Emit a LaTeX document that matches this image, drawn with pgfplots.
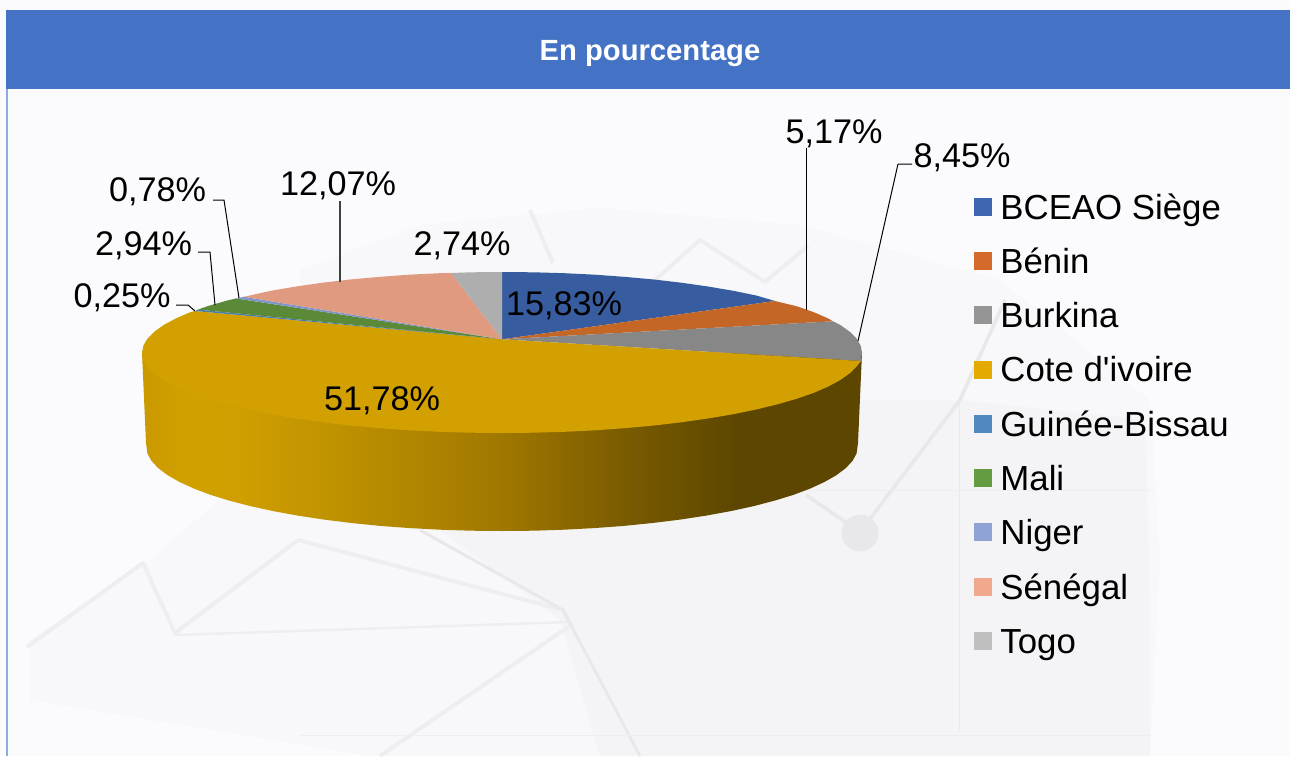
\documentclass[border=0pt]{standalone}
\usepackage{fontspec}
\setmainfont{Liberation Sans}
\usepackage{pgfplots}
\pgfplotsset{compat=1.18}

\definecolor{bandblue}{HTML}{4472C4}
\definecolor{edgeblue}{HTML}{8FAADC}
\definecolor{paper}{HTML}{FBFBFD}
\definecolor{pale}{HTML}{F8F7F9}
\definecolor{paler}{HTML}{F4F3F5}
\definecolor{wm}{HTML}{EEEDEF}
\definecolor{wmd}{HTML}{E8E7E9}
% slice colours on the top face
\definecolor{sBceao}{HTML}{375C9F}
\definecolor{sBenin}{HTML}{C46625}
\definecolor{sBurkina}{HTML}{878787}
\definecolor{sCote}{HTML}{D2A000}
\definecolor{sGuinee}{HTML}{4A7DAE}
\definecolor{sMali}{HTML}{5A8A38}
\definecolor{sNiger}{HTML}{8096CA}
\definecolor{sSenegal}{HTML}{DF9A80}
\definecolor{sTogo}{HTML}{AEAEAE}
% legend colours
\definecolor{lBceao}{HTML}{3F66B0}
\definecolor{lBenin}{HTML}{D46B2A}
\definecolor{lBurkina}{HTML}{959595}
\definecolor{lCote}{HTML}{E3AA00}
\definecolor{lGuinee}{HTML}{5088BF}
\definecolor{lMali}{HTML}{659C42}
\definecolor{lNiger}{HTML}{90A3D6}
\definecolor{lSenegal}{HTML}{F1A98D}
\definecolor{lTogo}{HTML}{BFBFBF}
% side wall shading
\definecolor{wall0}{HTML}{C99900}
\definecolor{wall1}{HTML}{D0A000}
\definecolor{wall2}{HTML}{CF9E00}
\definecolor{wall3}{HTML}{BE9100}
\definecolor{wall4}{HTML}{A07800}
\definecolor{wall5}{HTML}{755800}
\definecolor{wall6}{HTML}{5C4600}
\pgfdeclarehorizontalshading{wallshade}{100bp}{color(0bp)=(wall0); color(25bp)=(wall0); color(28bp)=(wall1); color(31.8bp)=(wall2); color(38.75bp)=(wall3); color(49.9bp)=(wall4); color(59.6bp)=(wall5); color(66.5bp)=(wall6); color(100bp)=(wall6)}

\begin{document}
\begin{tikzpicture}
\begin{axis}[
  scale only axis, width=645pt, height=378pt,
  xmin=0, xmax=1290, ymin=0, ymax=756, y dir=reverse,
  hide axis,
  legend image code/.code={\fill[#1,draw=none] (0pt,-2.8pt) rectangle (9pt,6.2pt); \path (13pt,0pt);},
  legend cell align=left,
  legend style={at={(axis cs:974,193)}, anchor=north west, draw=none, fill=none,
    inner sep=0pt, outer sep=0pt, row sep=10.15pt, column sep=0pt,
    font=\fontsize{17.4}{20}\selectfont,
    nodes={inner sep=0pt, outer sep=0pt, text height=13pt, text depth=4pt}},
]
\addlegendimage{fill=lBceao}\addlegendentry{BCEAO Siège}
\addlegendimage{fill=lBenin}\addlegendentry{Bénin}
\addlegendimage{fill=lBurkina}\addlegendentry{Burkina}
\addlegendimage{fill=lCote}\addlegendentry{Cote d\textquotesingle ivoire}
\addlegendimage{fill=lGuinee}\addlegendentry{Guinée-Bissau}
\addlegendimage{fill=lMali}\addlegendentry{Mali}
\addlegendimage{fill=lNiger}\addlegendentry{Niger}
\addlegendimage{fill=lSenegal}\addlegendentry{Sénégal}
\addlegendimage{fill=lTogo}\addlegendentry{Togo}

% page, watermark
\addplot[forget plot, fill=paper, draw=none] coordinates {(0,0) (1290,0) (1290,756) (0,756)};
\addplot[forget plot, fill=pale, draw=none] coordinates {(300,270) (420,225) (600,208) (800,225) (1000,280) (1150,400) (1160,560) (1150,756) (370,756) (30,700) (30,640) (150,560) (300,430)};
\addplot[forget plot, fill=paler, draw=none] coordinates {(640,400) (960,400) (1145,420) (1150,600) (1150,756) (600,756) (560,620) (440,530) (560,530)};
\addplot[forget plot, wm, line width=2pt, line join=round] coordinates {(27,647) (143,563) (175,633) (298,540) (563,610) (571,625) (380,756)};
\addplot[forget plot, wm, line width=1.2pt] coordinates {(175,635) (571,622)};
\addplot[forget plot, wmd, line width=1.5pt] coordinates {(420,530) (563,610) (640,756)};
\addplot[forget plot, wm, line width=2pt, line join=round] coordinates {(530,210) (553,263)};
\addplot[forget plot, wm, line width=2pt, line join=round] coordinates {(655,280) (700,240) (765,282) (808,246)};
\addplot[forget plot, wmd, line width=1.8pt, line join=round] coordinates {(806,495) (860,532) (960,400) (1005,300)};
\addplot[forget plot, wmd, line width=0.5pt] coordinates {(959,400) (959,730)};
\addplot[forget plot, wm, line width=0.4pt] coordinates {(640,490) (1150,490)};
\addplot[forget plot, wm, line width=0.4pt] coordinates {(300,735) (1150,735)};
\addplot[forget plot, wmd, only marks, mark=*, mark size=9pt] coordinates {(860,533)};

% title band and left edge
\addplot[forget plot, fill=bandblue, draw=none] coordinates {(6,10) (1290,10) (1290,89) (6,89)};
\addplot[forget plot, fill=edgeblue, draw=none] coordinates {(6,89) (8,89) (8,756) (6,756)};

% side wall
\addplot[forget plot, draw=none, shading=wallshade] coordinates {(862,352.5) (142,352.5) (146,443) (147.4,453.4) (151.4,460.8) (158.1,468) (167.5,475.1) (179.4,481.9) (193.7,488.5) (210.4,494.8) (229.3,500.6) (250.3,506.1) (273.2,511.1) (297.8,515.6) (324,519.6) (351.6,523) (380.2,525.9) (409.9,528.1) (440.2,529.7) (471,530.7) (502,531) (533,530.7) (563.8,529.7) (594.1,528.1) (623.8,525.9) (652.4,523) (680,519.6) (706.2,515.6) (730.8,511.1) (753.7,506.1) (774.7,500.6) (793.6,494.8) (810.3,488.5) (824.6,481.9) (836.5,475.1) (845.9,468) (852.6,460.8) (856.6,453.4) (858,443)};

% top face slices
\addplot[forget plot, fill=sBceao, draw=none] coordinates {(502,339.3) (502,272) (533.4,272.3) (564.5,273.2) (595.2,274.7) (625.1,276.9) (654.1,279.5) (682,282.8) (708.5,286.6) (733.4,290.8) (756.6,295.6) (775,301)};
\addplot[forget plot, fill=sBenin, draw=none] coordinates {(502,339.3) (775,301) (796.9,306.3) (813.8,312.2) (828.3,318.5) (833,321.3)};
\addplot[forget plot, fill=sBurkina, draw=none] coordinates {(502,339.3) (833,321.3) (840.3,325) (849.7,331.7) (856.5,338.5) (860.6,345.5) (862,352.5) (861,361)};
\addplot[forget plot, fill=sCote, draw=none] coordinates {(502,339.3) (861,361) (856.5,366.5) (849.7,373.3) (840.3,380) (828.3,386.5) (813.8,392.8) (796.9,398.7) (777.8,404.2) (756.6,409.4) (733.4,414.2) (708.5,418.4) (682,422.2) (654.1,425.5) (625.1,428.1) (595.2,430.3) (564.5,431.8) (533.4,432.7) (502,433) (470.6,432.7) (439.5,431.8) (408.8,430.3) (378.9,428.1) (349.9,425.5) (322,422.2) (295.5,418.4) (270.6,414.2) (247.4,409.4) (226.2,404.2) (207.1,398.7) (190.2,392.8) (175.7,386.5) (163.7,380) (154.3,373.3) (147.5,366.5) (143.4,359.5) (142,352.5) (143.4,345.5) (147.5,338.5) (154.3,331.7) (163.7,325) (175.7,318.5) (190.2,312.2) (195,311)};
\addplot[forget plot, fill=sGuinee, draw=none] coordinates {(502,339.3) (195,311) (198,309.6)};
\addplot[forget plot, fill=sMali, draw=none] coordinates {(502,339.3) (198,309.6) (207.1,306.3) (226.2,300.8) (236,298.4)};
\addplot[forget plot, fill=sNiger, draw=none] coordinates {(502,339.3) (236,298.4) (244,296.8)};
\addplot[forget plot, fill=sSenegal, draw=none] coordinates {(502,339.3) (244,296.8) (270.6,290.8) (295.5,286.6) (322,282.8) (349.9,279.5) (378.9,276.9) (408.8,274.7) (439.5,273.2) (451,273)};
\addplot[forget plot, fill=sTogo, draw=none] coordinates {(502,339.3) (451,273) (470.6,272.3) (502,272)};

% leader lines
\addplot[forget plot, black, line width=0.5pt] coordinates {(176,305) (188,305) (195,311)};
\addplot[forget plot, black, line width=0.5pt] coordinates {(198,252) (210,252) (215,305)};
\addplot[forget plot, black, line width=0.5pt] coordinates {(213,200) (224,200) (239,298)};
\addplot[forget plot, black!75, line width=0.6pt] coordinates {(340,201) (340,282)};
\addplot[forget plot, black, line width=0.5pt] coordinates {(806,148) (806,310)};
\addplot[forget plot, black, line width=0.5pt] coordinates {(912,164) (898,164) (858,341)};

\node[font=\bfseries\fontsize{14.6}{17}\selectfont, text=white] at (axis cs:650,54) {En pourcentage};
\begin{scope}[every node/.style={font=\fontsize{17.1}{20}\selectfont, anchor=base, inner sep=0pt}]
\node at (axis cs:122,307) {0,25\%};
\node at (axis cs:143.5,255) {2,94\%};
\node at (axis cs:157.5,201) {0,78\%};
\node at (axis cs:338,195) {12,07\%};
\node at (axis cs:462,255) {2,74\%};
\node at (axis cs:564,315) {15,83\%};
\node at (axis cs:382,410) {51,78\%};
\node at (axis cs:834,143) {5,17\%};
\node at (axis cs:962,167) {8,45\%};
\end{scope}
\end{axis}
\end{tikzpicture}
\end{document}
